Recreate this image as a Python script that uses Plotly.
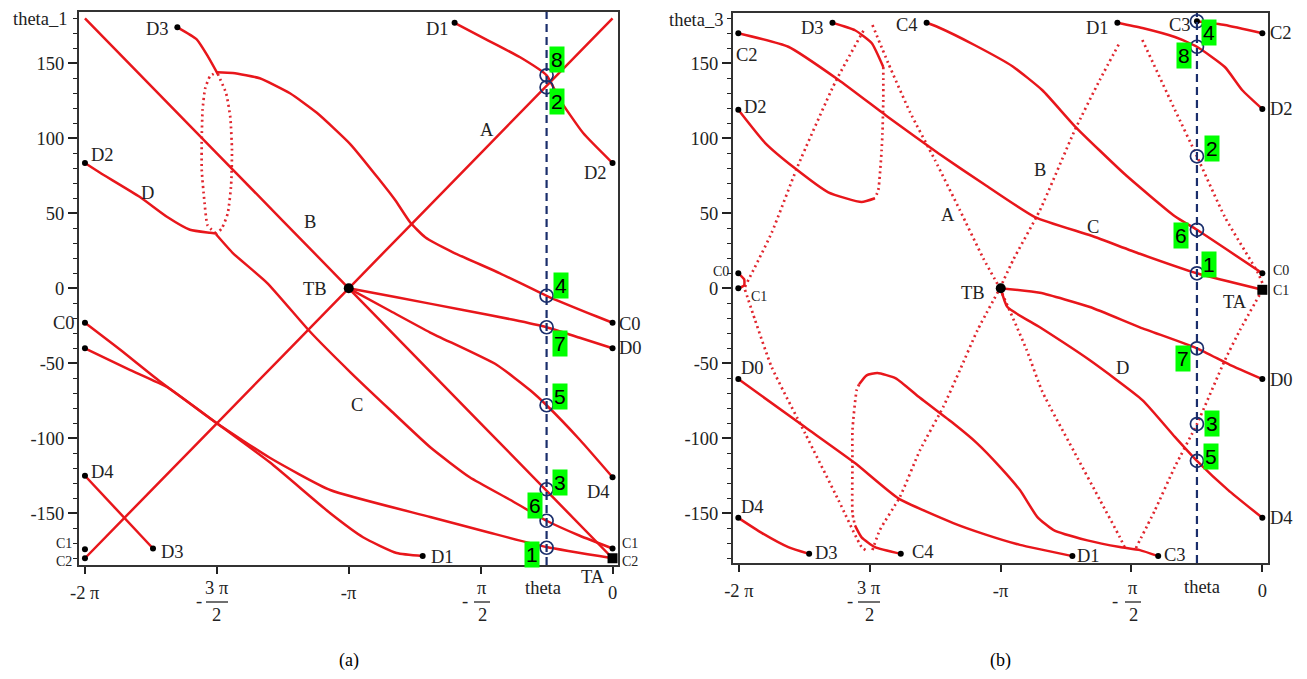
import math
import plotly.graph_objects as go

# ---------------- DATA: panel (a)  theta [rad] vs theta_1 [deg] ----------------
a_A_x = [-6.28, -4.71, -3.14, -1.57, 0.0]
a_A_y = [-180, -90, 0, 90, 180]
a_B_x = [-6.28, -4.71, -3.14, -1.57, 0.0]
a_B_y = [180, 90, 0, -90, -180]
a_D3_x = [-5.18, -4.95, -4.81, -4.70]
a_D3_y = [174, 166, 154, 143]
a_loopR_x = [-4.70, -4.60, -4.55, -4.53, -4.54, -4.58, -4.65, -4.72]
a_loopR_y = [143, 130, 114, 92, 69, 50, 40, 36]
a_C_x = [-4.72, -4.52, -4.11, -3.60, -3.12, -2.65, -2.17, -1.70, -1.22, -0.785, -0.39, 0.0]
a_C_y = [36, 23.5, 3.5, -29, -56, -81, -106, -126, -141, -155, -165, -173.5]
a_D_x = [-6.28, -6.10, -5.63, -5.30, -5.03, -4.79, -4.72]
a_D_y = [83.5, 77, 61, 47.5, 39, 37, 36.5]
a_loopL_x = [-4.72, -4.82, -4.86, -4.89, -4.89, -4.88, -4.85, -4.79, -4.71]
a_loopL_y = [36.5, 42, 59, 79, 99, 119, 133, 141.5, 144]
a_arc_x = [-4.71, -4.52, -4.20, -3.84, -3.52, -3.12, -2.77, -2.59, -2.41, -2.23, -1.90, -1.34, -0.785, -0.18, 0.0]
a_arc_y = [144, 143.5, 140, 130, 117, 96, 72, 59, 44, 34, 24, 10, -5, -19, -23]
a_D1_x = [-1.88, -1.49, -1.10, -0.785, -0.63, -0.35, 0.0]
a_D1_y = [177, 165.5, 154, 142, 126, 103.5, 83.5]
a_TBD0_x = [-3.14, -2.57, -1.78, -1.18, -0.785, -0.39, 0.0]
a_TBD0_y = [0, -6, -14.5, -21, -26, -33, -40]
a_TBD4_x = [-3.14, -2.65, -2.17, -1.38, -0.98, -0.785, -0.39, 0.0]
a_TBD4_y = [0, -15, -29.5, -51, -68, -78, -101, -126]
a_C0D1_x = [-6.28, -5.86, -5.39, -4.71, -4.08, -3.36, -2.97, -2.57, -2.26]
a_C0D1_y = [-23, -41, -62, -90, -116, -150, -166, -176.5, -178.5]
a_D0C2_x = [-6.28, -5.74, -5.30, -4.71, -4.08, -3.36, -2.17, -1.46, -0.785, 0.0]
a_D0C2_y = [-40, -54.5, -66, -90, -113, -134.5, -152.5, -163, -172.5, -180]
a_D4D3_x = [-6.28, -5.47]
a_D4D3_y = [-125, -173.5]
a_end_x = [-5.18, -1.88, -6.28, 0.0, -6.28, -6.28, -6.28, -5.47, -6.28, -6.28, -2.26, 0.0, 0.0, 0.0, 0.0]
a_end_y = [174, 177, 83.5, 83.5, -23, -40, -125, -173.5, -174, -180, -178.5, -23, -40, -126, -173.5]
a_big_x = [-3.14, 0.0]
a_big_y = [0, -180]
a_circ_y = [142, 134, -5, -26, -78, -134, -155, -173]

# ---------------- DATA: panel (b)  theta [rad] vs theta_3 [deg] ----------------
b_C_x = [-6.29, -5.69, -5.09, -4.49, -3.89, -3.33, -2.73, -2.05, -1.47, -0.785, 0.0]
b_C_y = [170, 161, 139, 114, 90, 69, 47.5, 35, 23, 10, -1]
b_C4C0_x = [-4.03, -3.89, -3.45, -3.00, -2.64, -2.25, -1.65, -1.05, -0.785, 0.0]
b_C4C0_y = [177, 174, 162, 148, 132, 108, 76, 48, 39, 10]
b_D1D2_x = [-1.74, -1.44, -1.05, -0.785, -0.45, -0.24, 0.0]
b_D1D2_y = [177, 173.5, 167.5, 161, 147.5, 132, 119.5]
b_C3C2_x = [-0.785, -0.45, 0.0]
b_C3C2_y = [178, 175.5, 170]
b_TBD0_x = [-3.14, -2.67, -2.07, -1.47, -0.785, -0.39, 0.0]
b_TBD0_y = [0, -3, -12.5, -26, -40, -51, -60.5]
b_D_x = [-3.14, -3.06, -2.67, -2.07, -1.44, -1.05, -0.785, -0.41, 0.0]
b_D_y = [0, -12.5, -26, -48, -74.5, -99, -115, -134.5, -153]
b_D0D1_x = [-6.29, -5.49, -4.89, -4.37, -3.71, -3.33, -2.91, -2.28]
b_D0D1_y = [-60.5, -92.5, -116.5, -140, -156.5, -164, -171, -178.5]
b_D4D3_x = [-6.29, -6.01, -5.69, -5.44]
b_D4D3_y = [-153, -163, -172.5, -177]
b_lowTop_x = [-4.84, -4.75, -4.62, -4.40, -4.11, -3.71, -3.43, -3.15, -2.91, -2.70, -2.51, -2.10, -1.71, -1.47, -1.25]
b_lowTop_y = [-64, -58, -56.5, -60, -73, -90, -103, -119, -134.5, -152.5, -161, -168, -172.5, -174.5, -178.5]
b_lowL_x = [-4.84, -4.87, -4.92, -4.92, -4.92, -4.89]
b_lowL_y = [-64, -68, -94.5, -116.5, -150, -158]
b_lowBot_x = [-4.89, -4.81, -4.65, -4.34]
b_lowBot_y = [-158, -166, -172.5, -177]
b_upTop_x = [-5.16, -4.89, -4.69, -4.55]
b_upTop_y = [177, 172, 163.5, 147.5]
b_upR_x = [-4.55, -4.55, -4.56, -4.57, -4.61, -4.65]
b_upR_y = [147.5, 125.5, 103, 92, 65.5, 60]
b_upBot_x = [-4.65, -4.81, -5.21, -5.61, -5.97, -6.29]
b_upBot_y = [60, 57.5, 64, 80, 97, 119]
b_C0C1_x = [-6.29, -6.22, -6.22, -6.29]
b_C0C1_y = [10, 6, 2, 0]
b_dL1_x = [-6.21, -5.89, -5.58, -5.13, -4.77]
b_dL1_y = [1, 37, 81, 137, 173.5]
b_dL2_x = [-4.68, -4.49, -4.23, -3.93, -3.63, -3.35, -3.15]
b_dL2_y = [175.5, 150, 117.5, 85.5, 52, 20, 0]
b_dL3_x = [-6.21, -6.09, -5.89, -5.49, -5.09, -4.81, -4.75]
b_dL3_y = [-1, -21, -52.5, -96.5, -141, -172.5, -175]
b_dL4_x = [-4.68, -4.59, -4.35, -4.11, -3.83, -3.63, -3.42, -3.15]
b_dL4_y = [-174.5, -161, -139, -108, -79, -54.5, -28, 0]
b_dR1_x = [-3.15, -2.99, -2.67, -2.25, -1.95, -1.71]
b_dR1_y = [0, 19, 52, 105.5, 139, 164]
b_dR2_x = [-1.44, -1.05, -0.785, -0.45, -0.05, 0.0]
b_dR2_y = [165.5, 119, 88, 47.5, 10, 3.5]
b_dR3_x = [0.0, -0.27, -0.45, -0.785, -1.05, -1.29, -1.53]
b_dR3_y = [-1, -28, -48, -90.5, -119, -148, -174.5]
b_dR4_x = [-3.15, -2.83, -2.64, -2.22, -1.95, -1.71, -1.65]
b_dR4_y = [0, -41, -69, -113, -141, -166, -173]
b_end_x = [-5.16, -4.03, -1.74, -6.29, -6.29, -6.29, -6.29, -6.29, -6.29, -5.44, -4.34, -2.28, -1.25, 0.0, 0.0, 0.0, 0.0, 0.0, -0.785]
b_end_y = [177, 177, 177, 170, 119, 10, 0, -60.5, -153, -177, -177, -178.5, -178.5, 170, 119.5, 10, -60.5, -153, 178]
b_big_x = [-3.14, 0.0]
b_big_y = [0, -1]
b_circ_y = [178, 161, 88, 39, 10, -40, -90.5, -115]

theta_cut = -0.785
y_ticks = [-150, -100, -50, 0, 50, 100, 150]
y_ticktext = ['-150', '-100', '-50', '0', '50', '100', '150']

# ---------------- STYLE ----------------
RED = '#e8161b'
RED_DOT = '#e0262e'
NAVY = '#1a2e6c'
OFF = 8                       # page margin of the html body
W, H = 1307 - 2 * OFF, 679 - 2 * OFF
SERIF = 'Liberation Serif'
LAB = 18.5

fig = go.Figure()


def curve(xs, ys, ax, dotted=False):
    fig.add_trace(go.Scatter(
        x=xs, y=ys, mode='lines', xaxis='x' + ax, yaxis='y' + ax,
        line=dict(color=RED_DOT if dotted else RED, width=2.7 if dotted else 2.5,
                  dash='2px,3.5px' if dotted else 'solid', shape='spline', smoothing=0.5),
        hoverinfo='skip', showlegend=False))


solid_a = [(a_A_x, a_A_y), (a_B_x, a_B_y), (a_D3_x, a_D3_y), (a_C_x, a_C_y), (a_D_x, a_D_y),
           (a_arc_x, a_arc_y), (a_D1_x, a_D1_y), (a_TBD0_x, a_TBD0_y), (a_TBD4_x, a_TBD4_y),
           (a_C0D1_x, a_C0D1_y), (a_D0C2_x, a_D0C2_y), (a_D4D3_x, a_D4D3_y)]
dotted_a = [(a_loopR_x, a_loopR_y), (a_loopL_x, a_loopL_y)]
solid_b = [(b_C_x, b_C_y), (b_C4C0_x, b_C4C0_y), (b_D1D2_x, b_D1D2_y), (b_C3C2_x, b_C3C2_y),
           (b_TBD0_x, b_TBD0_y), (b_D_x, b_D_y), (b_D0D1_x, b_D0D1_y), (b_D4D3_x, b_D4D3_y),
           (b_lowTop_x, b_lowTop_y), (b_lowBot_x, b_lowBot_y), (b_upTop_x, b_upTop_y),
           (b_upBot_x, b_upBot_y), (b_C0C1_x, b_C0C1_y)]
dotted_b = [(b_lowL_x, b_lowL_y), (b_upR_x, b_upR_y), (b_dL1_x, b_dL1_y), (b_dL2_x, b_dL2_y),
            (b_dL3_x, b_dL3_y), (b_dL4_x, b_dL4_y), (b_dR1_x, b_dR1_y), (b_dR2_x, b_dR2_y),
            (b_dR3_x, b_dR3_y), (b_dR4_x, b_dR4_y)]

for xs, ys in dotted_a:
    curve(xs, ys, '', True)
for xs, ys in solid_a:
    curve(xs, ys, '')
for xs, ys in dotted_b:
    curve(xs, ys, '2', True)
for xs, ys in solid_b:
    curve(xs, ys, '2')

RANGES = {'': ([-6.351, 0.065], [-184.5, 184.2]), '2': ([-6.354, 0.068], [-183.1, 183.5])}

for ax, ex, ey, bx, by, cy in [('', a_end_x, a_end_y, a_big_x, a_big_y, a_circ_y),
                               ('2', b_end_x, b_end_y, b_big_x, b_big_y, b_circ_y)]:
    fig.add_trace(go.Scatter(x=ex, y=ey, mode='markers', xaxis='x' + ax, yaxis='y' + ax,
                             marker=dict(color='black', size=6), hoverinfo='skip', showlegend=False))
    fig.add_trace(go.Scatter(x=bx, y=by, mode='markers', xaxis='x' + ax, yaxis='y' + ax,
                             marker=dict(color='black', size=10, symbol=['circle', 'square']),
                             hoverinfo='skip', showlegend=False))
    yr = RANGES[ax][1]
    fig.add_trace(go.Scatter(x=[theta_cut, theta_cut], y=yr, mode='lines', xaxis='x' + ax, yaxis='y' + ax,
                             line=dict(color=NAVY, width=2.2, dash='8px,5px'),
                             hoverinfo='skip', showlegend=False))
    fig.add_trace(go.Scatter(x=[theta_cut] * len(cy), y=cy, mode='markers', xaxis='x' + ax, yaxis='y' + ax,
                             marker=dict(symbol='circle-open', size=13, color=NAVY, line=dict(width=1.7)),
                             hoverinfo='skip', showlegend=False))


def xaxis(rng, dom):
    return dict(range=rng, domain=dom, showgrid=False, zeroline=False, automargin=False,
                tickmode='array',
                tickvals=[-2 * math.pi, -1.5 * math.pi, -math.pi, -0.5 * math.pi, 0],
                ticktext=['-2 π', '', '-π', '', '0'],
                ticks='outside', ticklen=7, tickwidth=1.5, tickcolor='#222',
                ticklabelstandoff=3,
                showline=True, linewidth=2, linecolor='#333', mirror=True,
                tickfont=dict(family=SERIF, size=18.5, color='#222'))


def yaxis(rng, dom, anchor):
    return dict(range=rng, domain=dom, anchor=anchor, showgrid=False, zeroline=False, automargin=False,
                tickmode='array', tickvals=y_ticks, ticktext=y_ticktext,
                ticks='outside', ticklen=9, tickwidth=1.5, tickcolor='#222',
                minor=dict(tickmode='linear', dtick=10, tick0=0, ticks='outside', ticklen=4, tickwidth=1,
                           tickcolor='#222', showgrid=False),
                showline=True, linewidth=2, linecolor='#333', mirror=True,
                tickfont=dict(family=SERIF, size=18.5, color='#222'))


def PX(x):
    return (x - OFF) / W


def PY(y):
    return 1 - (y - OFF) / H


xa_dom = [PX(79), PX(618)]
ya_dom = [PY(565), PY(12)]
xb_dom = [PX(733), PX(1268)]
yb_dom = [PY(563), PY(13)]

fig.update_layout(
    width=W, height=H, margin=dict(l=0, r=0, t=0, b=0, autoexpand=False),
    paper_bgcolor='white', plot_bgcolor='white', showlegend=False,
    xaxis=dict(xaxis(RANGES[''][0], xa_dom), anchor='y'),
    yaxis=yaxis(RANGES[''][1], ya_dom, 'x'),
    xaxis2=dict(xaxis(RANGES['2'][0], xb_dom), anchor='y2'),
    yaxis2=yaxis(RANGES['2'][1], yb_dom, 'x2'),
)

# ---------------- TEXT (positions in pixels of the page) ----------------
ann = []


def txt(s, x, y, size=LAB, family=SERIF, color='#222', **kw):
    ann.append(dict(text=s, x=PX(x), y=PY(y), xref='paper', yref='paper', showarrow=False,
                    xanchor='center', yanchor='middle',
                    font=dict(family=family, size=size, color=color), **kw))


def green(s, x, y):
    ann.append(dict(text=s, x=PX(x), y=PY(y), xref='paper', yref='paper', showarrow=False,
                    xanchor='center', yanchor='middle', bgcolor='#00ff00', borderpad=1,
                    font=dict(family='Liberation Sans', size=21, color='black')))


labels_a = [('theta_1', 40, 19), ('D3', 157, 29), ('D1', 437, 29), ('A', 487, 130), ('D2', 103, 155),
            ('D', 147, 193), ('B', 310, 222), ('TB', 315, 289), ('C', 357, 405), ('D2', 595, 173),
            ('C0', 630, 324), ('D0', 630, 348), ('D4', 598, 492), ('TA', 593, 577), ('D1', 442, 557),
            ('C0', 64, 323), ('D4', 102, 472), ('D3', 172, 552), ('theta', 543, 588)]
labels_b = [('theta_3', 696, 20), ('D3', 812, 28), ('C4', 907, 25), ('C2', 747, 55), ('D2', 755, 107),
            ('A', 948, 215), ('B', 1040, 170), ('C', 1093, 227), ('TB', 973, 293), ('D1', 1097, 28),
            ('C3', 1180, 25), ('C2', 1281, 33), ('D2', 1281, 109),
            ('TA', 1235, 302), ('D', 1122, 368), ('D0', 1281, 380),
            ('D4', 1281, 518), ('D1', 1088, 556), ('C3', 1175, 555), ('D0', 752, 368), ('D4', 752, 507),
            ('D3', 827, 553), ('C4', 923, 552), ('theta', 1202, 587)]
for s, x, y in labels_a + labels_b:
    txt(s, x, y)
# tightly stacked end labels
for s, x, y in [('C1', 64, 543), ('C2', 64, 561), ('C1', 630, 543), ('C2', 630, 561),
                ('C0', 721, 272), ('C1', 759, 296), ('C0', 1281, 271), ('C1', 1281, 290)]:
    txt(s, x, y, size=14)

greens = [('8', 557, 60), ('2', 557, 102), ('4', 561, 285), ('7', 560, 343), ('5', 560, 396),
          ('3', 560, 482), ('6', 535, 505), ('1', 532, 554),
          ('4', 1209, 33), ('8', 1184, 56), ('2', 1212, 148), ('6', 1181, 235), ('1', 1209, 265),
          ('7', 1183, 358), ('3', 1212, 423), ('5', 1211, 456)]
for s, x, y in greens:
    green(s, x, y)

# fraction tick labels  -3π/2 and -π/2
shapes = []
for num, cx, minus_x in [('3 π', 217, 199), ('π', 482, 465), ('3 π', 869, 850), ('π', 1133, 1115)]:
    txt(num, cx, 588)
    txt('2', cx, 615)
    txt('-', minus_x, 601)
    half = 11 if len(num) > 1 else 8
    shapes.append(dict(type='line', xref='paper', yref='paper', x0=PX(cx - half), x1=PX(cx + half),
                       y0=PY(602), y1=PY(602), line=dict(color='#222', width=1.3)))

txt('(a)', 349, 660, size=18, color='black')
txt('(b)', 1000, 660, size=18, color='black')

fig.update_layout(annotations=ann, shapes=shapes)
fig.write_html('out.html')
